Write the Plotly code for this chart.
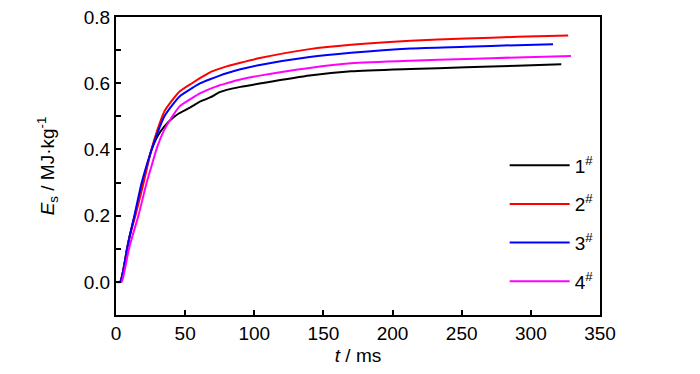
import plotly.graph_objects as go

# Data
t1 = [0, 3, 5, 8, 10, 13.5, 19.5, 25, 30, 35, 41, 46, 55, 61, 68, 75, 80, 90, 104, 140, 170, 213, 253, 290, 322]
e1 = [0, 0, 0.03, 0.10, 0.14, 0.20, 0.30, 0.39, 0.44, 0.47, 0.495, 0.51, 0.53, 0.545, 0.557, 0.573, 0.58, 0.589, 0.599, 0.623, 0.636, 0.643, 0.648, 0.653, 0.657]

t2 = [0, 3, 5, 8, 10, 14, 20, 25, 30, 35, 40, 46, 55, 61, 68, 75, 80, 90, 104, 140, 170, 213, 253, 290, 327]
e2 = [0, 0, 0.03, 0.10, 0.14, 0.20, 0.30, 0.39, 0.46, 0.515, 0.545, 0.575, 0.60, 0.616, 0.633, 0.644, 0.651, 0.662, 0.676, 0.703, 0.716, 0.728, 0.735, 0.740, 0.744]

t3 = [0, 3, 5, 8, 10, 13.3, 18.6, 25, 30, 35, 40, 46, 55, 61, 68, 75, 80, 90, 104, 140, 170, 213, 253, 290, 316]
e3 = [0, 0, 0.03, 0.10, 0.14, 0.20, 0.30, 0.39, 0.45, 0.50, 0.53, 0.56, 0.585, 0.60, 0.612, 0.623, 0.630, 0.642, 0.655, 0.679, 0.692, 0.705, 0.710, 0.715, 0.718]

t4 = [0, 4, 6, 9.4, 12, 16.2, 22.2, 25, 30, 35, 40, 46, 55, 61, 68, 75, 80, 90, 104, 140, 170, 213, 253, 290, 329]
e4 = [0, 0, 0.03, 0.10, 0.14, 0.20, 0.30, 0.34, 0.41, 0.46, 0.495, 0.53, 0.555, 0.57, 0.583, 0.594, 0.60, 0.611, 0.623, 0.646, 0.660, 0.668, 0.673, 0.678, 0.682]

names = ["1<sup>#</sup>", "2<sup>#</sup>", "3<sup>#</sup>", "4<sup>#</sup>"]
colors = ["#000000", "#ff0000", "#0000ff", "#ff00ff"]

x_ticks = [0, 50, 100, 150, 200, 250, 300, 350]
y_ticks = [0.0, 0.2, 0.4, 0.6, 0.8]
y_labels = ["0.0", "0.2", "0.4", "0.6", "0.8"]

FONT = "Liberation Sans, Arial, sans-serif"

fig = go.Figure()
for i, (tx, ey) in enumerate([(t1, e1), (t2, e2), (t3, e3), (t4, e4)]):
    fig.add_trace(go.Scatter(
        x=tx, y=ey, mode="lines", name=names[i],
        line=dict(color=colors[i], width=2, shape="spline", smoothing=0.6),
        legendgroup=f"g{i}",
    ))

fig.update_layout(
    width=700, height=374,
    margin=dict(l=108, r=108, t=9, b=67),
    paper_bgcolor="white", plot_bgcolor="white",
    font=dict(family=FONT, size=19, color="black"),
    showlegend=True,
    legend=dict(
        x=0.803, y=0.566, xanchor="left", yanchor="top",
        bgcolor="rgba(0,0,0,0)", borderwidth=0,
        font=dict(family=FONT, size=19, color="black"),
        tracegroupgap=11, itemwidth=60,
    ),
    xaxis=dict(
        range=[0, 350], tickvals=x_ticks, ticktext=[str(v) for v in x_ticks],
        ticks="inside", ticklen=5, tickwidth=1.5, tickcolor="black",
        showline=True, linewidth=2, linecolor="black", mirror=True,
        showgrid=False, zeroline=False, automargin=False, ticklabeloverflow="allow",
        title=dict(text="<i>t</i> / ms", standoff=6, font=dict(family=FONT, size=19)),
    ),
    yaxis=dict(
        range=[-0.1, 0.8], tickvals=y_ticks, ticktext=y_labels,
        ticks="inside", ticklen=5, tickwidth=1.5, tickcolor="black",
        minor=dict(tickvals=[-0.1, 0.1, 0.3, 0.5, 0.7], ticks="inside", ticklen=5, tickwidth=1.5, tickcolor="black", showgrid=False),
        showline=True, linewidth=2, linecolor="black", mirror=True,
        showgrid=False, zeroline=False, automargin=False, ticklabeloverflow="allow",
        title=dict(text="<i>E</i><sub>s</sub> / MJ·kg<sup>-1</sup>", standoff=24, font=dict(family=FONT, size=19)),
    ),
)

fig.write_html("out.html")
